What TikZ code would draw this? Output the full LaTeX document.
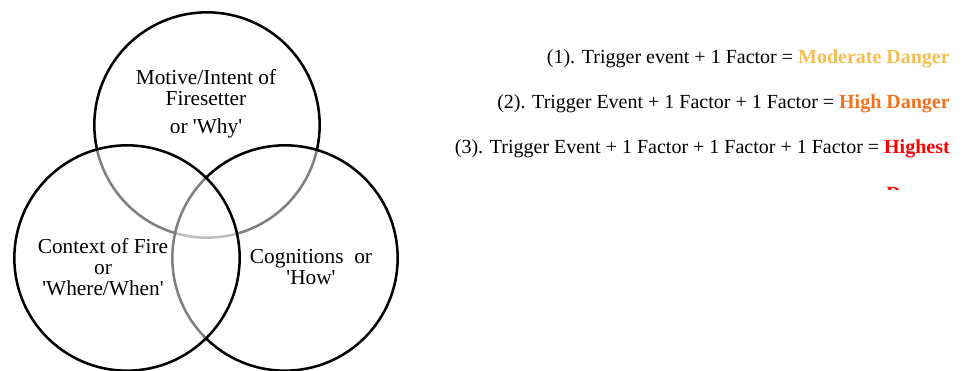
\documentclass[tikz,border=0pt]{standalone}
\usepackage{fontspec}
\newfontfamily\tnr{Liberation Serif}
\definecolor{moderate}{HTML}{F6BE4F}
\definecolor{high}{HTML}{F5711E}
\definecolor{highest}{HTML}{FF0000}
\begin{document}
\begin{tikzpicture}[x=0.75pt,y=-0.75pt,
  ring/.style={draw=black,line width=1.9pt},
  veil/.style={ring,fill=white,fill opacity=0.5},
  lbl/.style={font=\tnr\fontsize{16}{15.75}\selectfont,align=center,inner sep=0pt},
  rule/.style={font=\tnr\fontsize{15}{18}\selectfont,inner sep=0pt,anchor=base east}]
\useasboundingbox (0,0) rectangle (967,371);
% circles
\coordinate (ct) at (207,125);
\coordinate (cr) at (285,258);
\coordinate (cl) at (127,258);
\draw[ring,fill=white] (ct) circle[radius=84.5pt];
\draw[veil] (cr) circle[radius=84.5pt];
\draw[veil] (cl) circle[radius=84.5pt];
% labels (base anchor = baseline of last line)
\node[lbl,anchor=base] (why) at (206,133) {Motive/Intent of\\Firesetter\\[5.25pt]or 'Why'};
\node[lbl,anchor=base] (where) at (103,295) {Context of Fire\\or\\'Where/When'};
\node[lbl,anchor=base] (how) at (311,284) {Cognitions\ \ or\\'How'};
% rules
\node[rule] (r1) at (950,63) {(1). Trigger event + 1 Factor = \textbf{\textcolor{moderate}{Moderate Danger}}};
\node[rule] (r2) at (950,108) {(2). Trigger Event + 1 Factor + 1 Factor = \textbf{\textcolor{high}{High Danger}}};
\node[rule] (r3) at (950,153) {(3). Trigger Event + 1 Factor + 1 Factor + 1 Factor = \textbf{\textcolor{highest}{Highest}}};
\begin{scope}
\clip (700,160) rectangle (967,189);
\node[rule] (r3b) at (950,200) {\textbf{\textcolor{highest}{Danger}}};
\end{scope}
\end{tikzpicture}
\end{document}
